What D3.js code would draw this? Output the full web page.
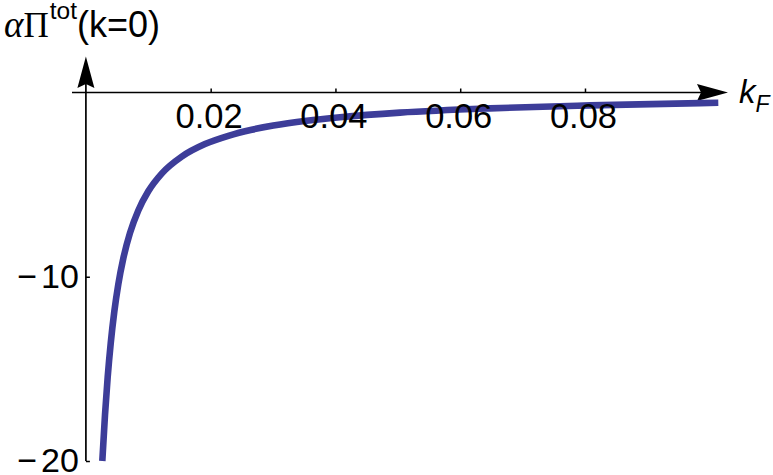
<!DOCTYPE html>
<html><head><meta charset="utf-8">
<script src="https://cdn.jsdelivr.net/npm/d3@7"></script>
<style>body{margin:0;background:#fff}svg{display:block}</style>
</head><body><svg id="c" width="773" height="475"></svg>
<script>
// data
const kF    = [0.00263, 0.00306, 0.00349, 0.00398, 0.00455, 0.00519, 0.00600, 0.00707, 0.00840, 0.01000, 0.01215, 0.01536, 0.01909, 0.02283, 0.02658, 0.03004, 0.03539, 0.04073, 0.05035, 0.06478, 0.08080, 0.10137];
const piTot = [-20, -17.5, -15.45, -13.6, -11.9, -10.42, -9.0, -7.62, -6.40, -5.36, -4.40, -3.48, -2.80, -2.35, -2.02, -1.79, -1.53, -1.34, -1.09, -0.86, -0.70, -0.56];
const xTicks = [0.02, 0.04, 0.06, 0.08];
const xTickLabels = ["0.02", "0.04", "0.06", "0.08"];
const yTicks = [-10, -20];
const yTickLabels = ["\u221210", "\u221220"];

const svg = d3.select("#c");
const x = d3.scaleLinear().domain([0, 0.1]).range([85.9, 709.75]);
const y = d3.scaleLinear().domain([-20, 0]).range([461, 92.5]);
const sans = "'Liberation Sans', Arial, sans-serif";
const serif = "'Liberation Serif', 'Times New Roman', serif";

// axis lines
const x0 = x(0), y0 = y(0);
svg.append("line").attr("x1", 72).attr("x2", 712).attr("y1", y0).attr("y2", y0)
  .attr("stroke", "#000").attr("stroke-width", 1.7);
svg.append("line").attr("x1", x0).attr("x2", x0).attr("y1", y(-20)).attr("y2", 70)
  .attr("stroke", "#000").attr("stroke-width", 1.7);
// arrowheads
svg.append("path").attr("d", `M728,${y0} L697,${y0-8.5} L701,${y0} L697,${y0+8.5} Z`).attr("fill", "#000");
svg.append("path").attr("d", `M${x0},56.5 L${x0-8.5},88 L${x0},84 L${x0+8.5},88 Z`).attr("fill", "#000");

// curve
const line = d3.line().x(d => x(d[0])).y(d => y(d[1])).curve(d3.curveMonotoneX);
svg.append("path").datum(kF.map((k, i) => [k, piTot[i]]))
  .attr("d", line).attr("fill", "none").attr("stroke", "#3d3d99").attr("stroke-width", 6.6);

// x axis ticks
const gx = svg.append("g").attr("transform", `translate(0,${y0})`)
  .call(d3.axisBottom(x).tickValues(xTicks).tickFormat((d, i) => xTickLabels[i])
    .tickSizeInner(-4).tickSizeOuter(0).tickPadding(11.5));
gx.select(".domain").remove();
gx.selectAll("line").attr("stroke-width", 1.5);
gx.selectAll("text").attr("font-family", sans).attr("font-size", 34.5).attr("fill", "#000").attr("dx", -2);

// y axis ticks
const gy = svg.append("g").attr("transform", `translate(${x0},0)`)
  .call(d3.axisLeft(y).tickValues(yTicks).tickFormat((d, i) => yTickLabels[i])
    .tickSizeInner(-4).tickSizeOuter(0).tickPadding(7));
gy.select(".domain").remove();
gy.selectAll("line").attr("stroke-width", 1.5);
gy.selectAll("text").attr("font-family", sans).attr("font-size", 34).attr("fill", "#000").attr("dy", "0.31em")
  .each(function() {
    const t = d3.select(this), s = t.text();
    t.text(null);
    t.append("tspan").text(s.slice(0, 1));
    t.append("tspan").attr("dx", 4).text(s.slice(1));
  });

// axis labels
const yl = svg.append("text").attr("x", 4).attr("y", 37).attr("fill", "#000");
yl.append("tspan").attr("font-family", serif).attr("font-style", "italic").attr("font-size", 37).text("\u03b1");
yl.append("tspan").attr("font-family", serif).attr("font-size", 35).text("\u03a0");
yl.append("tspan").attr("font-family", sans).attr("font-size", 24.5).attr("dy", -18.5).attr("dx", 1).text("tot");
yl.append("tspan").attr("font-family", sans).attr("font-size", 36).attr("dy", 18.5).text("(k=0)");

const xl = svg.append("text").attr("x", 739).attr("y", 103).attr("fill", "#000")
  .attr("font-family", sans).attr("font-style", "italic");
xl.append("tspan").attr("font-size", 33).text("k");
xl.append("tspan").attr("font-size", 23).attr("dy", 8.5).text("F");
</script></body></html>
